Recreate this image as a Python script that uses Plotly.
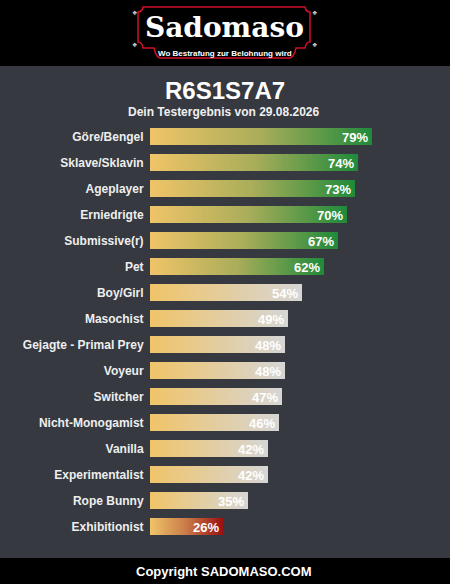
import numpy as np
import plotly.graph_objects as go

categories = ["Göre/Bengel", "Sklave/Sklavin", "Ageplayer", "Erniedrigte", "Submissive(r)",
              "Pet", "Boy/Girl", "Masochist", "Gejagte - Primal Prey", "Voyeur", "Switcher",
              "Nicht-Monogamist", "Vanilla", "Experimentalist", "Rope Bunny", "Exhibitionist"]
values = [79, 74, 73, 70, 67, 62, 54, 49, 48, 48, 47, 46, 42, 42, 35, 26]
groups = ["green"] * 6 + ["gray"] * 9 + ["red"]

title_text = "R6S1S7A7"
subtitle_text = "Dein Testergebnis von 29.08.2026"
footer_text = "Copyright SADOMASO.COM"

W, H = 450, 584
ML, MR, MT, MB = 150, 19, 124, 44
PW, PH = W - ML - MR, H - MT - MB
BG = "#363940"
FONT = "Liberation Sans, Arial, sans-serif"


def px(x):
    return (x - ML) / PW


def py(y):
    return (H - MB - y) / PH


# heatmap-based gradient bars
edges = np.arange(0, 100.0001, 0.5)
centers = (edges[:-1] + edges[1:]) / 2
offset = {"green": 0.0, "gray": 1.0, "red": 2.0}
z = []
for v, g in zip(values, groups):
    row = [offset[g] + 0.999 * c / v if c < v else None for c in centers]
    z.append(row)

e = 1e-6
colorscale = [
    [0.0, "#f0c468"], [1 / 6, "#a9ad5a"], [1 / 3, "#1e8a3a"],
    [1 / 3 + e, "#f0c468"], [2 / 3, "#d6d6d6"],
    [2 / 3 + e, "#f0c468"], [5 / 6, "#c97a48"], [1.0, "#9a1010"],
]

fig = go.Figure()
fig.add_trace(go.Heatmap(
    z=z, x=edges, y=list(range(len(categories))),
    colorscale=colorscale, zmin=0, zmax=3, showscale=False,
    ygap=9, xgap=0, hoverinfo="skip",
))

annotations = []
for i, v in enumerate(values):
    annotations.append(dict(
        x=v, y=i, xref="x", yref="y", text=f"{v}%", showarrow=False,
        xanchor="right", yanchor="middle", xshift=-2,
        font=dict(family=FONT, size=13, color="#ffffff", weight="bold"),
    ))

# header / footer texts
annotations += [
    dict(x=px(225), y=py(90), xref="paper", yref="paper", text=title_text, showarrow=False,
         xanchor="center", yanchor="middle",
         font=dict(family=FONT, size=24, color="#ffffff", weight="bold")),
    dict(x=px(224), y=py(112), xref="paper", yref="paper", text=subtitle_text, showarrow=False,
         xanchor="center", yanchor="middle",
         font=dict(family=FONT, size=12, color="#f0f0f0", weight="bold")),
    dict(x=px(224), y=py(571), xref="paper", yref="paper", text=footer_text, showarrow=False,
         xanchor="center", yanchor="middle",
         font=dict(family=FONT, size=13, color="#ffffff", weight="bold")),
    dict(x=px(224), y=py(27), xref="paper", yref="paper", text="Sadomaso", showarrow=False,
         xanchor="center", yanchor="middle",
         font=dict(family="DejaVu Serif, serif", size=28, color="#ffffff", weight="bold")),
    dict(x=px(225), y=py(53), xref="paper", yref="paper", text="Wo Bestrafung zur Belohnung wird",
         showarrow=False, xanchor="center", yanchor="middle",
         font=dict(family=FONT, size=8, color="#ffffff", weight="bold")),
]
for (ox, oy) in [(134, 12), (134, 44), (314, 12), (314, 44)]:
    annotations.append(dict(x=px(ox), y=py(oy), xref="paper", yref="paper", text="❖",
                            showarrow=False, xanchor="center", yanchor="middle",
                            font=dict(family="DejaVu Sans", size=6, color="#dddddd")))


def pth(points):
    s = ""
    for cmd, pts in points:
        s += cmd + " " + " ".join(f"{px(a):.5f},{py(b):.5f}" for a, b in pts) + " "
    return s + "Z"


logo_path = pth([
    ("M", [(143, 7)]), ("L", [(305, 7)]), ("Q", [(306, 12), (310, 12)]),
    ("L", [(310, 42)]), ("Q", [(306, 42), (305, 48)]), ("L", [(296, 48)]),
    ("Q", [(294, 58), (289, 58)]), ("L", [(161, 58)]), ("Q", [(156, 58), (154, 48)]),
    ("L", [(143, 48)]), ("Q", [(142, 42), (138, 42)]), ("L", [(138, 12)]),
    ("Q", [(142, 12), (143, 7)]),
])

shapes = [
    dict(type="rect", xref="paper", yref="paper", x0=px(0), x1=px(W), y0=py(0), y1=py(66),
         fillcolor="#000000", line=dict(width=0), layer="below"),
    dict(type="rect", xref="paper", yref="paper", x0=px(0), x1=px(W), y0=py(558), y1=py(H),
         fillcolor="#000000", line=dict(width=0), layer="below"),
    dict(type="path", xref="paper", yref="paper", path=logo_path,
         fillcolor="#000000", line=dict(color="#d0102a", width=1.5), layer="below"),
]

fig.update_layout(
    width=W, height=H, autosize=False,
    margin=dict(l=ML, r=MR, t=MT, b=MB, pad=0),
    paper_bgcolor=BG, plot_bgcolor=BG,
    showlegend=False,
    annotations=annotations, shapes=shapes,
    xaxis=dict(range=[0, 100], visible=False, fixedrange=True),
    yaxis=dict(range=[len(categories) - 0.5, -0.5], tickmode="array",
               tickvals=list(range(len(categories))), ticktext=categories,
               ticks="outside", ticklen=3, tickcolor="rgba(0,0,0,0)",
               showgrid=False, zeroline=False, showline=False,
               tickfont=dict(family=FONT, size=12, color="#eeeeee", weight="bold"),
               fixedrange=True),
)

fig.write_html(
    "out.html",
    config={"displayModeBar": False},
    post_script="document.body.style.margin='0';document.body.style.padding='0';"
                "document.body.style.overflow='hidden';",
)
